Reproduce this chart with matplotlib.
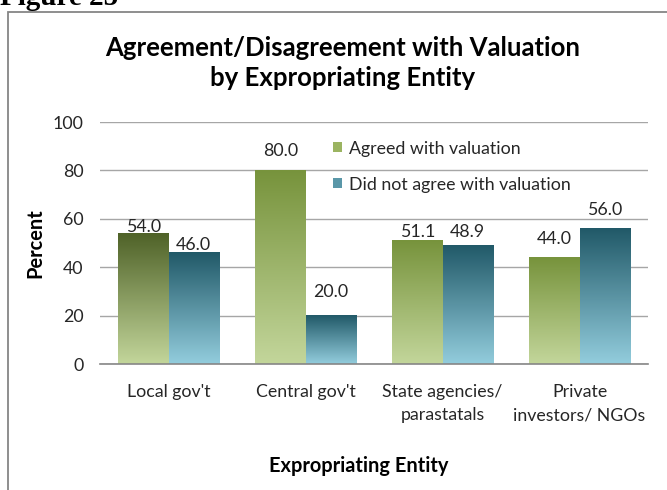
import numpy as np
import matplotlib.pyplot as plt
from matplotlib.colors import LinearSegmentedColormap
from matplotlib.patches import Rectangle, Patch

# Data
categories = ["Local gov't", "Central gov't", "State agencies/\nparastatals", "Private\ninvestors/ NGOs"]
agreed = [54.0, 80.0, 51.1, 44.0]
not_agreed = [46.0, 20.0, 48.9, 56.0]
series_names = ["Agreed with valuation", "Did not agree with valuation"]

# label nudges (points above bar top), as placed in the original
agreed_nudge = [-1.5, 8.3, 0.4, 7.5]
not_agreed_nudge = [0, 11, 4, 7.5]

plt.rcParams['font.family'] = ['Lato', 'DejaVu Sans']

fig = plt.figure(figsize=(6.67, 4.90), dpi=100)
ax = fig.add_axes([100/667, 1 - 364/490, 548/667, 242/490])

green_top = '#77933C'
green_top_dark = '#4F6228'
green_bot = '#C3D69B'
blue_top = '#215968'
blue_bot = '#93CDDD'
txt = '#262626'
fs = 12.8

def grad_bar(ax, x0, width, h, top, bot):
    cmap = LinearSegmentedColormap.from_list('g', [bot, top])
    grad = np.linspace(0, 1, 256).reshape(-1, 1)
    ax.imshow(grad, cmap=cmap, origin='lower', aspect='auto',
              extent=(x0, x0 + width, 0, h), zorder=2, interpolation='bilinear')

w = 0.365
x = np.arange(len(categories))
for i in x:
    gtop = green_top_dark if i == 0 else green_top
    grad_bar(ax, i - w, w, agreed[i], gtop, green_bot)
    grad_bar(ax, i, w, not_agreed[i], blue_top, blue_bot)
    ax.annotate(f"{agreed[i]:.1f}", (i - w/2, agreed[i]), xytext=(0, agreed_nudge[i]),
                textcoords='offset points', ha='center', va='bottom',
                fontsize=fs, color=txt, zorder=4)
    ax.annotate(f"{not_agreed[i]:.1f}", (i + w/2, not_agreed[i]), xytext=(0, not_agreed_nudge[i]),
                textcoords='offset points', ha='center', va='bottom',
                fontsize=fs, color=txt, zorder=4)

ax.set_xlim(-0.5, len(categories) - 0.5)
ax.set_ylim(0, 100)
ax.set_yticks(range(0, 101, 20))
ax.set_xticks(x)
ax.set_xticklabels(categories, linespacing=1.56)
ax.tick_params(axis='both', length=0, labelsize=fs, colors=txt)
ax.tick_params(axis='y', pad=12)
ax.tick_params(axis='x', pad=14.5)
ax.yaxis.grid(True, color='#A6A6A6', linewidth=1.0, zorder=0)
ax.set_axisbelow(True)
for s in ['top', 'right', 'left']:
    ax.spines[s].set_visible(False)
ax.spines['bottom'].set_color('#868686')
ax.spines['bottom'].set_linewidth(1.2)
ax.spines['bottom'].set_zorder(3)

handles = [Patch(facecolor='#9BB461', edgecolor='none'),
           Patch(facecolor='#5A97A8', edgecolor='none')]
leg = ax.legend(handles, series_names, loc='upper left', bbox_to_anchor=(0.413, 0.952),
                frameon=False, fontsize=fs, handlelength=0.5, handleheight=0.5,
                handletextpad=0.4, labelspacing=1.12, borderaxespad=0)
for t in leg.get_texts():
    t.set_color(txt)

fig.text(343/667, 1 - 63/490, "Agreement/Disagreement with Valuation\nby Expropriating Entity",
         ha='center', va='center', fontsize=18.5, fontweight='bold', linespacing=1.3)
fig.text(35/667, 1 - 243/490, "Percent", rotation=90, ha='center', va='center',
         fontsize=14.4, fontweight='bold')
fig.text(359/667, 1 - 466/490, "Expropriating Entity", ha='center', va='center',
         fontsize=14.4, fontweight='bold')

# chart border and caption
fig.patches.append(Rectangle((8/667, -0.1), 1.2, 1 - 12/490 + 0.1, transform=fig.transFigure,
                             fill=False, edgecolor='#868686', linewidth=1.3))
fig.text(0, 1 - 5/490, "Figure 25", family='Liberation Serif', fontweight='bold',
         fontsize=21, ha='left', va='baseline')

fig.savefig('out.png', dpi=100)
